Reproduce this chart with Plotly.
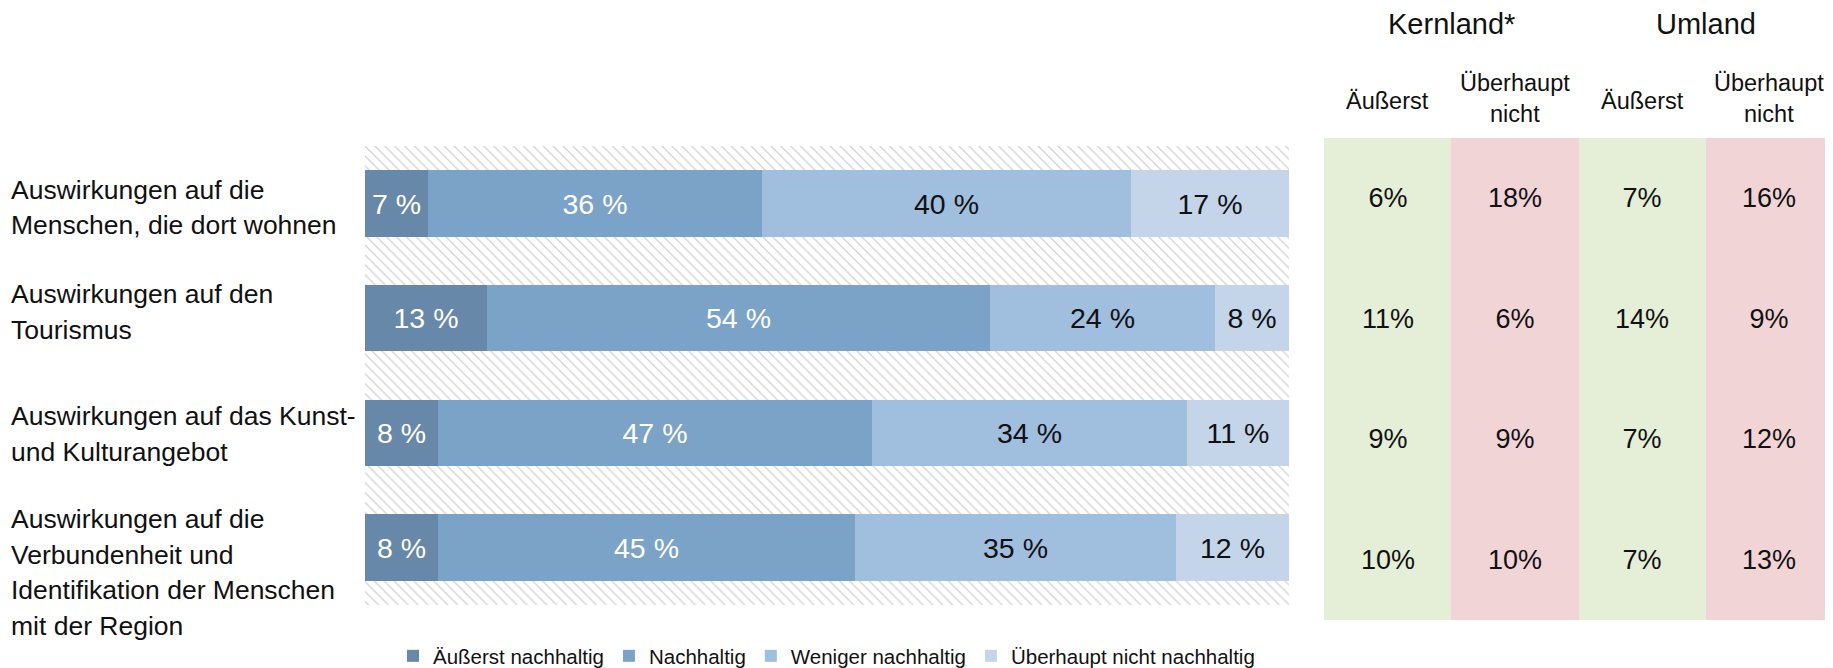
import plotly.graph_objects as go

# page body has an 8px margin; the figure fills the rest of the window
OFF = 8
W, H = 1833 - OFF, 668 - OFF

# ---------------- data ----------------
categories = ["Menschen", "Tourismus", "Kunst", "Verbundenheit"]
category_lines = [
    ["Auswirkungen auf die", "Menschen, die dort wohnen"],
    ["Auswirkungen auf den", "Tourismus"],
    ["Auswirkungen auf das Kunst-", "und Kulturangebot"],
    ["Auswirkungen auf die", "Verbundenheit und", "Identifikation der Menschen", "mit der Region"],
]
series_names = ["Äußerst nachhaltig", "Nachhaltig", "Weniger nachhaltig", "Überhaupt nicht nachhaltig"]
aeusserst = [6.8, 13.2, 7.9, 7.9]
nachhaltig = [36.2, 54.4, 47.0, 45.1]
weniger = [39.9, 24.4, 34.1, 34.8]
ueberhaupt = [17.1, 8.0, 11.0, 12.2]

table_groups = ["Kernland*", "Umland"]
table_cols = ["Äußerst", "Überhaupt<br>nicht", "Äußerst", "Überhaupt<br>nicht"]
kern_aeusserst = [6, 11, 9, 10]
kern_ueberhaupt = [18, 6, 9, 10]
um_aeusserst = [7, 14, 7, 7]
um_ueberhaupt = [16, 9, 12, 13]

# ---------------- styles ----------------
FONT = "Liberation Sans, Arial, sans-serif"
seg_colors = ["#6788A8", "#7BA3C8", "#A0BEDD", "#C4D5EA"]
seg_text = ["white", "white", "#111111", "#111111"]
green, pink = "#E5EED7", "#F0D4D6"


def px_x(v):
    return (v - OFF) / W


def px_y(v):
    return 1 - (v - OFF) / H


fig = go.Figure()

# hatched background band
fig.add_trace(go.Bar(
    y=list(range(len(categories))), x=[100] * len(categories), base=0, orientation="h",
    width=1.0, showlegend=False, hoverinfo="skip",
    marker=dict(color="white", line=dict(width=0),
                pattern=dict(shape="\\", fgcolor="#D2D2D2", bgcolor="white",
                             size=7, solidity=0.18, fillmode="replace")),
))

series = [aeusserst, nachhaltig, weniger, ueberhaupt]
bases = [0.0] * len(categories)
for name, vals, col, tcol in zip(series_names, series, seg_colors, seg_text):
    fig.add_trace(go.Bar(
        name=name, y=list(range(len(categories))), x=vals, base=list(bases),
        orientation="h", width=0.58,
        marker=dict(color=col, line=dict(width=0)),
        texttemplate="%{x:.0f} %", textposition="inside", insidetextanchor="middle",
        constraintext="none",
        textfont=dict(family=FONT, size=28.5, color=tcol),
        hoverinfo="skip",
    ))
    bases = [b + v for b, v in zip(bases, vals)]

# table as heatmap
cols_data = [kern_aeusserst, kern_ueberhaupt, um_aeusserst, um_ueberhaupt]
z = [[c % 2 for c in range(4)] for _ in range(4)]
text = [[f"{cols_data[c][r]}%" for c in range(4)] for r in range(4)]
fig.add_trace(go.Heatmap(
    z=z, x=[0, 1, 2, 3], y=[0, 1, 2, 3], text=text, texttemplate="%{text}",
    textfont=dict(family=FONT, size=27, color="#111111"),
    colorscale=[[0, green], [1, pink]], zmin=0, zmax=1, showscale=False,
    xaxis="x2", yaxis="y2", hoverinfo="skip",
))

annotations = []
# category labels (one annotation per line to match line spacing)
label_shift = [4, -6, 1, 25]
LS = 35.7
for i, lines in enumerate(category_lines):
    n = len(lines)
    for k, line in enumerate(lines):
        off = (k - (n - 1) / 2) * LS + label_shift[i]
        annotations.append(dict(
            text=line, xref="paper", yref="y", x=px_x(9), y=i, yshift=-off,
            xanchor="left", yanchor="middle", showarrow=False, align="left",
            font=dict(family=FONT, size=26.5, color="#111111"),
        ))

# table headers
for g, name in enumerate(table_groups):
    annotations.append(dict(
        text=name, xref="x2", yref="paper", x=2 * g + 0.5, y=px_y(24),
        xanchor="center", yanchor="middle", showarrow=False,
        font=dict(family=FONT, size=29, color="#111111"),
    ))
sub_y = [101, 98, 101, 98]
for c, name in enumerate(table_cols):
    annotations.append(dict(
        text=name, xref="x2", yref="paper", x=c, y=px_y(sub_y[c]),
        xanchor="center", yanchor="middle", showarrow=False, align="center",
        font=dict(family=FONT, size=23.5, color="#111111"),
    ))

fig.update_layout(
    width=W, height=H, margin=dict(l=0, r=0, t=0, b=0, autoexpand=False),
    paper_bgcolor="white", plot_bgcolor="white",
    barmode="overlay", bargap=0,
    font=dict(family=FONT, color="#111111"),
    xaxis=dict(domain=[px_x(365), px_x(1289)], range=[0, 100], visible=False, fixedrange=True),
    yaxis=dict(domain=[px_y(605), px_y(146)], range=[3.5, -0.5], visible=False, fixedrange=True),
    xaxis2=dict(domain=[px_x(1324), 1.0], range=[-0.5, 3.5], visible=False, anchor="y2"),
    yaxis2=dict(domain=[px_y(620), px_y(138)], range=[3.5, -0.5], visible=False, anchor="x2"),
    legend=dict(orientation="h", x=px_x(393), y=px_y(656), xanchor="left", yanchor="middle",
                font=dict(family=FONT, size=20.5, color="#111111"), traceorder="normal",
                bgcolor="rgba(0,0,0,0)"),
    annotations=annotations,
    showlegend=True,
)

fig.write_html("out.html")
